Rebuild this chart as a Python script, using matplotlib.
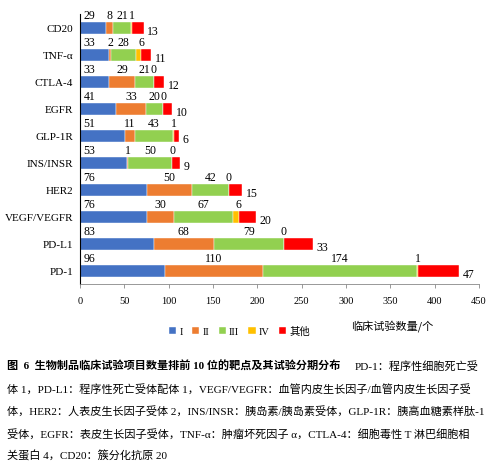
import matplotlib
matplotlib.use("Agg")
import matplotlib.pyplot as plt
import numpy as np

plt.rcParams['font.family'] = ['Liberation Serif', 'Noto Sans CJK SC']

# data, top row first as in the picture
targets = ["CD20", "TNF-α", "CTLA-4", "EGFR", "GLP-1R", "INS/INSR",
           "HER2", "VEGF/VEGFR", "PD-L1", "PD-1"]
phase1 = [29, 33, 33, 41, 51, 53, 76, 76, 83, 96]
phase2 = [8, 2, 29, 33, 11, 1, 50, 30, 68, 110]
phase3 = [21, 28, 21, 20, 43, 50, 42, 67, 79, 174]
phase4 = [1, 6, 0, 0, 1, 0, 0, 6, 0, 1]
other = [13, 11, 12, 10, 6, 9, 15, 20, 33, 47]

series_names = ["I", "II", "III", "IV", "其他"]
colors = ["#4472C4", "#ED7D31", "#92D050", "#FFC000", "#FF0000"]
xticks = list(range(0, 451, 50))

fig = plt.figure(figsize=(5.0, 4.64), dpi=100)
ax = fig.add_axes([0.16, 0.386, 0.798, 0.582])

n = len(targets)
ypos = np.arange(n)[::-1]  # CD20 on top
series = [phase1, phase2, phase3, phase4, other]
left = np.zeros(n)
bh = 0.46
for vals, col, name in zip(series, colors, series_names):
    vals = np.array(vals, dtype=float)
    ax.barh(ypos, vals, left=left, height=bh, color=col, label=name,
            edgecolor='white', linewidth=0.3)
    left += vals

# data labels (roughly like the Excel layout)
lab_fs = 8.5
starts = np.zeros(n)
for k, vals in enumerate(series):
    vals = np.array(vals, dtype=float)
    for i in range(n):
        y = ypos[i]
        if k == 0:
            ax.text(4, y + 0.25, str(int(vals[i])), ha='left', va='bottom', fontsize=lab_fs)
        elif k == 4:
            ax.text(starts[i] + vals[i] + 4, y - 0.1, str(int(vals[i])),
                    ha='left', va='center', fontsize=lab_fs)
        else:
            xc = starts[i] + vals[i] / 2
            if k == 3:
                xc = starts[i] + vals[i]
            ax.text(xc, y + 0.25, str(int(vals[i])), ha='center', va='bottom', fontsize=lab_fs)
    starts += vals

ax.set_xlim(0, 450)
ax.set_ylim(-0.48, n - 0.48)
ax.set_xticks(xticks)
ax.set_xticklabels([str(t) for t in xticks], fontsize=7.5)
ax.set_yticks(ypos)
ax.set_yticklabels(targets, fontsize=8)
ax.tick_params(axis='y', length=0, pad=5)
ax.tick_params(axis='x', length=3, width=0.6, color='#888888', pad=6)
for s in ['top', 'right']:
    ax.spines[s].set_visible(False)
ax.spines['left'].set_linewidth(0.8)
ax.spines['bottom'].set_linewidth(0.6)
ax.spines['bottom'].set_color('#888888')

fig.text(0.784, 0.298, "临床试验数量/个", family=['Noto Sans CJK SC'], fontsize=8,
         ha='center', va='center')

ax.legend(loc='center', bbox_to_anchor=(0.40, -0.175), ncol=5, frameon=False,
          handlelength=0.7, handleheight=0.7, handletextpad=0.3,
          columnspacing=0.9, prop={'family': ['Liberation Serif', 'Noto Sans CJK SC'], 'size': 7.5})

# caption
cap_fs = 8.0
line_y = [0.211, 0.162, 0.113, 0.065, 0.016]
bold = fig.text(0.014, line_y[0], "图  6  生物制品临床试验项目数量排前 10 位的靶点及其试验分期分布",
                fontsize=cap_fs, fontweight='bold', va='center', ha='left')
fig.canvas.draw()
bb = bold.get_window_extent()
fig.text(bb.x1 / fig.bbox.width + 0.028, line_y[0], "PD-1：程序性细胞死亡受",
         fontsize=cap_fs, va='center', ha='left')
rest = [
    "体 1，PD-L1：程序性死亡受体配体 1，VEGF/VEGFR：血管内皮生长因子/血管内皮生长因子受",
    "体，HER2：人表皮生长因子受体 2，INS/INSR：胰岛素/胰岛素受体，GLP-1R：胰高血糖素样肽-1",
    "受体，EGFR：表皮生长因子受体，TNF-α：肿瘤坏死因子 α，CTLA-4：细胞毒性 T 淋巴细胞相",
    "关蛋白 4，CD20：簇分化抗原 20",
]
for t, y in zip(rest, line_y[1:]):
    fig.text(0.014, y, t, fontsize=cap_fs, va='center', ha='left')

fig.savefig("out.png", dpi=100)
